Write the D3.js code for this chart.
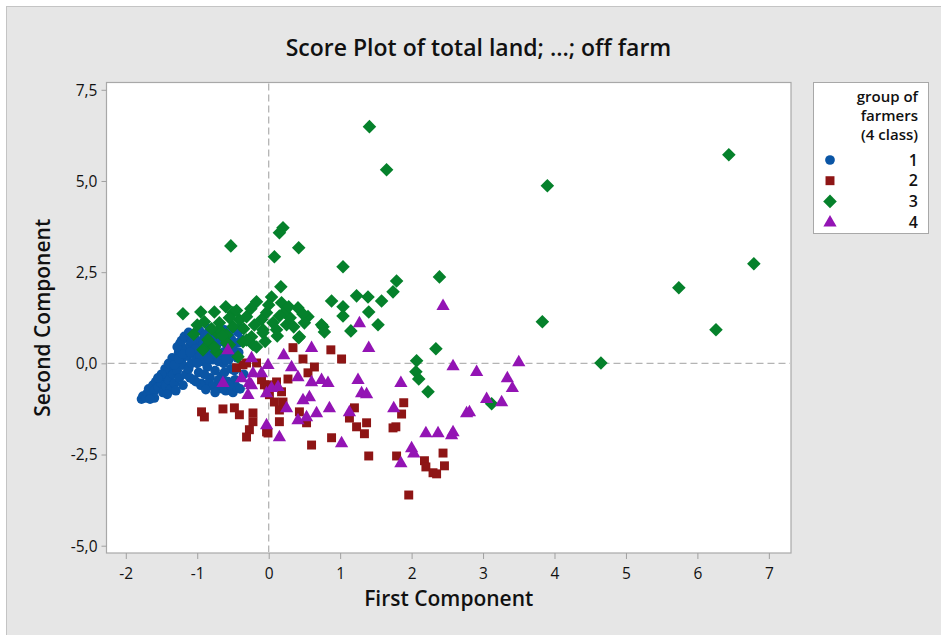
<!DOCTYPE html>
<html>
<head>
<meta charset="utf-8">
<script src="https://cdn.jsdelivr.net/npm/d3@7"></script>
<style>
  html, body { margin: 0; padding: 0; background: #ffffff; }
  svg { display: block; }
  text { font-family: "Open Sans", "Noto Sans", "DejaVu Sans", sans-serif; fill: #111; }
</style>
</head>
<body>
<svg id="chart" width="941" height="635"></svg>
<script>
// ---------- DATA ----------
const titleText = "Score Plot of total land; ...; off farm";
const xLabel = "First Component";
const yLabel = "Second Component";
const legendTitle = ["group of", "farmers", "(4 class)"];
const groupNames = ["1", "2", "3", "4"];
const xTicks = [-2, -1, 0, 1, 2, 3, 4, 5, 6, 7];
const yTicks = [-5, -2.5, 0, 2.5, 5, 7.5];

// group 1 (blue circles)
const group1 = [
  [-1.78,-0.98],[-1.76,-0.90],[-1.72,-0.95],[-1.70,-0.82],[-1.68,-0.70],[-1.65,-0.88],[-1.62,-0.60],[-1.60,-0.75],
  [-1.58,-0.50],[-1.55,-0.65],[-1.52,-0.42],[-1.50,-0.55],[-1.48,-0.80],[-1.46,-0.35],[-1.44,-0.62],[-1.42,-0.25],
  [-1.40,-0.45],[-1.38,-0.72],[-1.36,-0.10],[-1.34,-0.30],[-1.32,-0.55],[-1.30,0.05],[-1.28,-0.20],[-1.26,0.30],
  [-1.25,-0.40],[-1.24,0.55],[-1.22,0.10],[-1.20,-0.05],[-1.18,0.40],[-1.16,-0.30],[-1.15,0.70],[-1.14,0.20],
  [-1.12,-0.15],[-1.10,0.50],[-1.08,0.00],[-1.06,0.80],[-1.05,-0.45],[-1.04,0.35],[-1.02,0.15],[-1.00,0.62],
  [-0.98,-0.25],[-0.97,0.90],[-0.95,0.45],[-0.94,-0.55],[-0.92,0.05],[-0.90,0.75],[-0.88,0.25],[-0.86,-0.10],
  [-0.85,0.55],[-0.83,0.95],[-0.82,-0.40],[-0.80,0.35],[-0.78,0.10],[-0.77,0.70],[-0.75,-0.20],[-0.73,0.50],
  [-0.72,-0.60],[-0.70,0.85],[-0.68,0.20],[-0.66,-0.35],[-0.65,0.60],[-0.63,0.00],[-0.62,0.92],[-0.60,-0.75],
  [-0.58,0.40],[-0.57,-0.50],[-0.55,0.75],[-0.53,-0.15],[-0.52,0.20],[-0.50,-0.80],[-0.48,0.55],[-0.47,-0.45],
  [-0.45,-0.65],[-0.43,0.85],[-0.42,0.30],[-0.40,-0.70],[-0.38,0.65],[-0.36,0.95],[-0.35,-0.30],
  [-1.35,0.15],[-1.28,0.45],[-1.22,0.62],[-1.18,0.74],[-1.12,0.85],[-1.08,0.60],[-1.02,0.40],[-0.96,0.20],
  [-0.92,0.55],[-0.88,0.80],[-0.84,0.12],[-0.80,0.88],[-0.76,0.45],[-0.74,0.25],[-0.70,0.05],[-0.68,0.72],
  [-0.64,0.30],[-0.60,0.55],[-0.58,0.85],[-0.56,0.10],[-0.52,0.65],[-0.50,0.40],[-0.46,0.95],[-0.44,0.15],
  [-1.45,-0.15],[-1.50,-0.30],[-1.55,-0.40],[-1.40,0.00],[-1.32,-0.05],[-1.26,0.12],[-1.20,0.25],[-1.10,0.30],
  [-1.00,0.00],[-0.90,-0.30],[-0.85,-0.55],[-0.95,-0.60],[-1.02,-0.50],[-1.10,-0.40],[-1.20,-0.60],[-1.30,-0.75],
  [-1.42,-0.85],[-1.60,-0.95],[-1.66,-0.98],[-0.78,-0.62],[-0.70,-0.45],[-0.62,-0.25],[-0.55,-0.60],[-0.48,-0.20],
  [-0.65,-0.70],[-0.88,-0.72],[-0.75,-0.80],[-0.43,0.56],[-0.60,0.10]
];

// group 2 (red squares)
const group2 = [
  [0.34,0.43],[0.87,0.37],[1.02,0.12],[0.48,0.12],[0.64,-0.10],[0.55,-0.26],[-0.45,-0.12],[-0.31,0.01],
  [-0.17,0.01],[-0.06,-0.59],[0.01,-0.59],[0.11,-0.51],[0.27,-0.43],[0.18,-0.78],[0.08,-1.06],[0.20,-1.06],
  [0.01,-0.86],[0.15,-1.28],[0.43,-1.33],[0.53,-1.63],[0.15,-1.60],[-0.01,-1.91],[-0.22,-1.60],[-0.22,-1.36],
  [-0.27,-1.82],[-0.31,-2.02],[-0.64,-1.25],[-0.48,-1.22],[-0.41,-1.41],[-0.90,-1.47],[-0.94,-1.33],[0.60,-2.24],
  [0.88,-2.04],[1.20,-1.22],[1.23,-1.74],[-0.10,-0.45],[-0.01,-0.67],[1.13,-1.50],[1.37,-1.63],[1.34,-1.93],
  [1.40,-2.54],[1.89,-1.08],[1.86,-1.39],[1.78,-1.74],[1.74,-1.77],[1.79,-2.54],[2.18,-2.67],[2.20,-2.84],
  [2.30,-3.00],[2.35,-3.03],[2.44,-2.46],[2.46,-2.81],[1.96,-3.61],[-0.36,-0.04],[-0.03,-1.88]
];

// group 3 (green diamonds)
const group3 = [
  [1.41,6.49],[1.65,5.31],[6.44,5.72],[3.90,4.87],[6.79,2.73],[5.74,2.07],[6.26,0.92],[3.83,1.14],
  [4.65,0.01],[2.39,2.37],[2.34,0.40],[2.07,0.07],[2.06,-0.23],[2.10,-0.43],[2.23,-0.78],[3.12,-1.11],
  [-0.53,3.22],[0.20,3.72],[0.15,3.58],[0.42,3.17],[0.08,2.92],[1.04,2.65],[0.17,2.10],
  [1.79,2.26],[1.74,1.96],[1.58,1.71],[1.39,1.82],[1.23,1.85],[0.88,1.71],[1.04,1.55],[1.04,1.30],
  [1.40,1.41],[1.53,1.06],[1.15,0.89],[0.76,1.00],[0.78,0.86],
  [-0.60,1.55],[-0.17,1.69],[0.04,1.82],[0.18,1.66],[0.41,1.52],[0.55,1.28],[0.74,1.06],[0.42,0.70],
  [-1.20,1.36],[-0.95,1.41],
  [-0.76,1.41],[-0.50,1.39],[-0.41,1.19],[-0.69,1.11],[-0.73,0.84],[-0.59,0.78],[-0.31,1.28],[-0.03,1.39],
  [0.06,1.11],[-0.08,0.92],[-0.24,0.73],[-0.36,0.59],[-0.22,0.51],[-0.92,0.37],[-0.73,0.32],[-0.83,0.56],
  [-0.55,0.51],[-0.43,0.18],
  [-0.90,1.14],[-0.69,0.92],[-0.50,1.00],[-0.31,0.64],[-0.17,0.45],[0.11,0.92],[0.25,1.06],[0.43,0.73],
  [0.50,1.11],[-0.08,0.84],[-0.76,0.45],[-0.59,0.56],
  [0.30,1.25],[0.22,1.40],[0.35,1.00],[0.15,1.30],[-0.10,1.20],[-0.20,1.05],[-0.35,0.95],[-0.45,1.45],
  [-0.25,1.50],[-0.55,1.25],[-0.65,0.75],[-0.80,0.95],[-1.05,0.80],[-1.00,1.05],[-0.85,0.65],[0.00,1.60],
  [0.12,0.75],[-0.05,0.60],[0.28,1.55],[0.48,1.35]
];

// group 4 (purple triangles)
const group4 = [
  [-0.57,0.37],[-0.24,0.15],[0.21,0.23],[0.60,0.43],[1.27,1.11],[-0.01,-0.04],[-0.22,-0.26],[-0.10,-0.26],
  [0.32,-0.10],[0.41,-0.37],[-0.64,-0.53],[-0.38,-0.40],[-0.27,-0.53],[-0.29,-0.86],[0.04,-0.67],[0.13,-0.64],
  [0.60,-0.51],[0.74,-0.45],[0.83,-0.53],[0.48,-1.00],[0.57,-0.92],[0.25,-1.22],[0.41,-1.55],[0.53,-1.47],
  [0.67,-1.36],[0.85,-1.22],[1.13,-1.33],[-0.03,-1.69],[0.15,-2.02],[1.02,-2.18],[1.25,-0.45],[1.40,0.43],
  [2.58,-0.07],[2.91,-0.23],[3.50,0.04],[1.85,-0.53],[1.30,-0.81],[1.37,-0.84],[1.75,-1.22],[2.77,-1.36],
  [2.81,-1.33],[3.34,-0.40],[3.41,-0.67],[3.05,-0.97],[3.26,-1.06],[2.20,-1.91],[2.37,-1.91],[2.56,-1.96],
  [2.58,-1.88],[2.00,-2.32],[2.03,-2.46],[1.85,-2.73],[2.44,1.58],[-0.03,-0.81],[-0.24,-0.59]
];

const groupData = [group1, group2, group3, group4];
const groupColors = ["#0a55a5", "#8e1515", "#05812b", "#9314b4"];

// ---------- LAYOUT ----------
const W = 941, H = 635;
const plot = { left: 106.5, top: 82.5, right: 791, bottom: 553 };
const svg = d3.select("#chart");

const locale = d3.formatLocale({ decimal: ",", thousands: ".", grouping: [3], currency: ["", ""], minus: "-" });
const fmtY = locale.format(".1f");
const fmtX = locale.format("d");

const x = d3.scaleLinear().domain([-2.27, 7.31]).range([plot.left, plot.right]);
const y = d3.scaleLinear().domain([-5.2, 7.7]).range([plot.bottom, plot.top]);

// outer background
svg.append("rect").attr("x", 6.5).attr("y", 6.5).attr("width", W).attr("height", H)
  .attr("fill", "#e6e6e6").attr("stroke", "#c4c4c4");

// plot area
svg.append("rect").attr("x", plot.left).attr("y", plot.top)
  .attr("width", plot.right - plot.left).attr("height", plot.bottom - plot.top)
  .attr("fill", "#ffffff").attr("stroke", "#a8a8a8").attr("stroke-width", 1.2);

// axes
const xAxis = svg.append("g").attr("transform", `translate(0,${plot.bottom})`)
  .call(d3.axisBottom(x).tickValues(xTicks).tickFormat(fmtX).tickSize(6).tickSizeOuter(0));
const yAxis = svg.append("g").attr("transform", `translate(${plot.left},0)`)
  .call(d3.axisLeft(y).tickValues(yTicks).tickFormat(fmtY).tickSize(5).tickSizeOuter(0));
[xAxis, yAxis].forEach(a => {
  a.select(".domain").remove();
  a.selectAll(".tick line").attr("stroke", "#a0a0a0");
  a.selectAll(".tick text").attr("font-size", 15.5).attr("font-weight", 500).attr("fill", "#111")
    .attr("font-family", '"Open Sans", "Noto Sans", sans-serif');
});
xAxis.selectAll(".tick text").attr("dy", "1.1em");
yAxis.selectAll(".tick text").attr("dx", "-1").attr("dy", "0.35em");

// reference lines
const refs = svg.append("g");
refs.append("line").attr("x1", x(0)).attr("x2", x(0)).attr("y1", plot.top + 1).attr("y2", plot.bottom - 1)
  .attr("stroke", "#b4b4b4").attr("stroke-width", 1.3).attr("stroke-dasharray", "7,4");
refs.append("line").attr("x1", plot.left + 1).attr("x2", plot.right - 1).attr("y1", y(0)).attr("y2", y(0))
  .attr("stroke", "#b4b4b4").attr("stroke-width", 1.3).attr("stroke-dasharray", "7,4");

// symbols
function symbolPath(i) {
  if (i === 0) return d3.symbol().type(d3.symbolCircle).size(74)();
  if (i === 1) return d3.symbol().type(d3.symbolSquare).size(80)();
  if (i === 2) return d3.symbol().type(d3.symbolSquare).size(92)();
  return d3.symbol().type(d3.symbolTriangle).size(76)();
}
function symbolTransform(i, px, py) {
  if (i === 2) return `translate(${px},${py}) rotate(45)`;
  if (i === 3) return `translate(${px},${py + 0.5})`;
  return `translate(${px},${py})`;
}

groupData.forEach((data, i) => {
  svg.append("g").selectAll("path").data(data).join("path")
    .attr("d", symbolPath(i))
    .attr("transform", d => symbolTransform(i, x(d[0]), y(d[1])))
    .attr("fill", groupColors[i]);
});

// title and axis labels
svg.append("text").attr("x", 478.5).attr("y", 56).attr("text-anchor", "middle")
  .attr("font-size", 23).attr("font-weight", 600).text(titleText);
svg.append("text").attr("x", (plot.left + plot.right) / 2).attr("y", 606).attr("text-anchor", "middle")
  .attr("font-size", 21).attr("font-weight", 600).text(xLabel);
svg.append("text").attr("transform", `translate(50,${(plot.top + plot.bottom) / 2}) rotate(-90)`)
  .attr("text-anchor", "middle").attr("font-size", 21).attr("font-weight", 600).text(yLabel);

// legend
const lg = svg.append("g");
lg.append("rect").attr("x", 813.5).attr("y", 82.5).attr("width", 115).attr("height", 151)
  .attr("fill", "#ffffff").attr("stroke", "#a8a8a8");
legendTitle.forEach((t, k) => {
  lg.append("text").attr("x", 918).attr("y", 102 + k * 19.2).attr("text-anchor", "end")
    .attr("font-size", 15).attr("font-weight", 600).text(t);
});
groupNames.forEach((g, k) => {
  const cy = 160 + k * 20.7;
  lg.append("path").attr("d", symbolPath(k)).attr("transform", symbolTransform(k, 830, cy)).attr("fill", groupColors[k]);
  lg.append("text").attr("x", 918).attr("y", cy + 5.5).attr("text-anchor", "end")
    .attr("font-size", 16).attr("font-weight", 600).text(g);
});
</script>
</body>
</html>
